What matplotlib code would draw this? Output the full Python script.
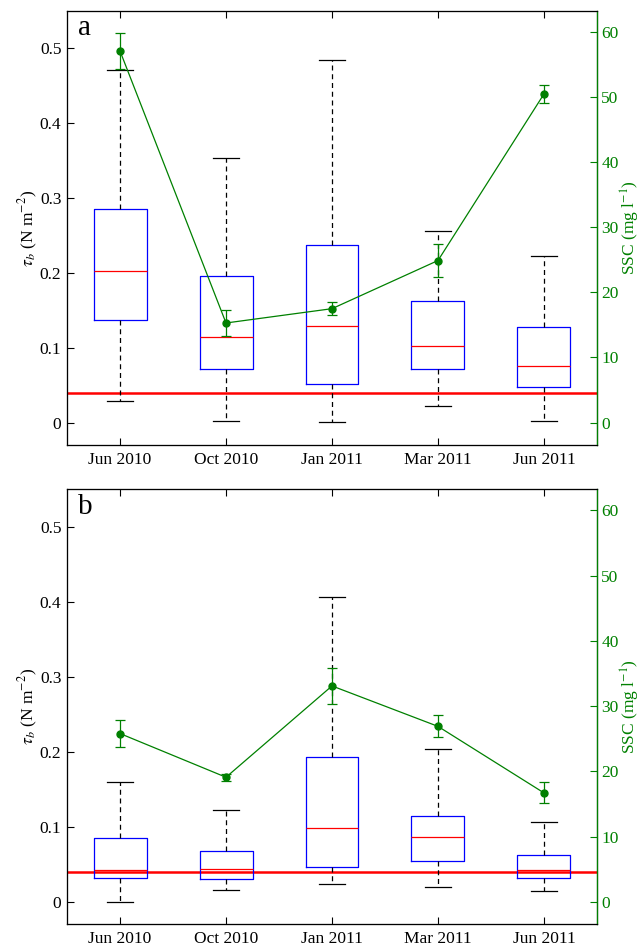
import matplotlib
matplotlib.use("Agg")
import matplotlib.pyplot as plt

plt.rcParams['font.family'] = ['Liberation Serif', 'DejaVu Serif']
plt.rcParams['mathtext.fontset'] = 'stix'

months = ["Jun 2010", "Oct 2010", "Jan 2011", "Mar 2011", "Jun 2011"]

# Bed shear stress statistics (N m^-2): lower whisker, q1, median, q3, upper whisker
tau_a_low = [0.029, 0.002, 0.001, 0.022, 0.002]
tau_a_q1 = [0.137, 0.071, 0.051, 0.071, 0.047]
tau_a_med = [0.202, 0.114, 0.129, 0.102, 0.076]
tau_a_q3 = [0.286, 0.196, 0.237, 0.162, 0.128]
tau_a_high = [0.471, 0.353, 0.485, 0.256, 0.223]

tau_b_low = [0.000, 0.016, 0.024, 0.020, 0.015]
tau_b_q1 = [0.032, 0.030, 0.046, 0.054, 0.032]
tau_b_med = [0.043, 0.044, 0.099, 0.086, 0.043]
tau_b_q3 = [0.085, 0.068, 0.193, 0.115, 0.063]
tau_b_high = [0.160, 0.123, 0.407, 0.204, 0.107]

# Suspended sediment concentration (mg l^-1) with error
ssc_a = [57.1, 15.3, 17.5, 24.9, 50.5]
ssc_a_err = [2.8, 2.0, 1.0, 2.5, 1.4]
ssc_b = [25.8, 19.1, 33.1, 26.9, 16.7]
ssc_b_err = [2.1, 0.5, 2.8, 1.7, 1.6]

critical_tau = 0.04

green = (0, 0.5, 0)
fs = 12.5

fig = plt.figure(figsize=(6.4, 9.46), dpi=100)
ax_a = fig.add_axes([0.1047, 0.5296, 0.8281, 0.4588])
ax_b = fig.add_axes([0.1047, 0.0229, 0.8281, 0.4599])


def draw_panel(ax, letter, low, q1, med, q3, high, ssc, ssc_err):
    positions = list(range(1, len(months) + 1))
    stats = []
    for i in range(len(months)):
        stats.append(dict(whislo=low[i], q1=q1[i], med=med[i], q3=q3[i],
                          whishi=high[i], fliers=[]))
    ax.bxp(stats, positions=positions, widths=0.5, showfliers=False,
           boxprops=dict(color='blue', linewidth=0.9),
           medianprops=dict(color='red', linewidth=0.9),
           whiskerprops=dict(color='black', linewidth=0.9, linestyle=(0, (4, 3))),
           capprops=dict(color='black', linewidth=0.9),
           capwidths=0.25)
    ax.axhline(critical_tau, color='red', linewidth=1.8, zorder=1)
    ax.set_xlim(0.5, 5.5)
    ax.set_ylim(-0.03, 0.55)
    ax.set_xticks(positions)
    ax.set_xticklabels(months)
    ax.set_yticks([0, 0.1, 0.2, 0.3, 0.4, 0.5])
    ax.set_yticklabels(["0", "0.1", "0.2", "0.3", "0.4", "0.5"])
    ax.tick_params(axis='both', direction='in', labelsize=fs, length=5, width=0.8)
    ax.tick_params(axis='x', top=True, pad=5)
    ax.tick_params(axis='y', pad=4)
    ax.set_ylabel(r'$\tau_b$ (N m$^{-2}$)', fontsize=fs, labelpad=0)
    for s in ax.spines.values():
        s.set_linewidth(0.9)
        s.set_color('#333333')
    ax.text(0.02, 0.99, letter, transform=ax.transAxes, fontsize=21,
            va='top', ha='left')

    axr = ax.twinx()
    axr.set_ylim(-0.03 * 115, 0.55 * 115)
    axr.set_yticks([0, 10, 20, 30, 40, 50, 60])
    axr.errorbar(positions, ssc, yerr=ssc_err, color=green, marker='o',
                 markersize=5, linewidth=0.9, capsize=3.5, elinewidth=0.9,
                 capthick=0.9)
    axr.tick_params(axis='y', direction='in', labelsize=fs, length=5,
                    width=0.8, colors=green, pad=3)
    axr.spines['right'].set_color(green)
    axr.spines['right'].set_linewidth(0.9)
    axr.set_ylabel(r'SSC (mg l$^{-1}$)', color=green, fontsize=fs, labelpad=0)
    return axr


draw_panel(ax_a, 'a', tau_a_low, tau_a_q1, tau_a_med, tau_a_q3, tau_a_high,
           ssc_a, ssc_a_err)
draw_panel(ax_b, 'b', tau_b_low, tau_b_q1, tau_b_med, tau_b_q3, tau_b_high,
           ssc_b, ssc_b_err)

fig.savefig("out.png", dpi=100)
